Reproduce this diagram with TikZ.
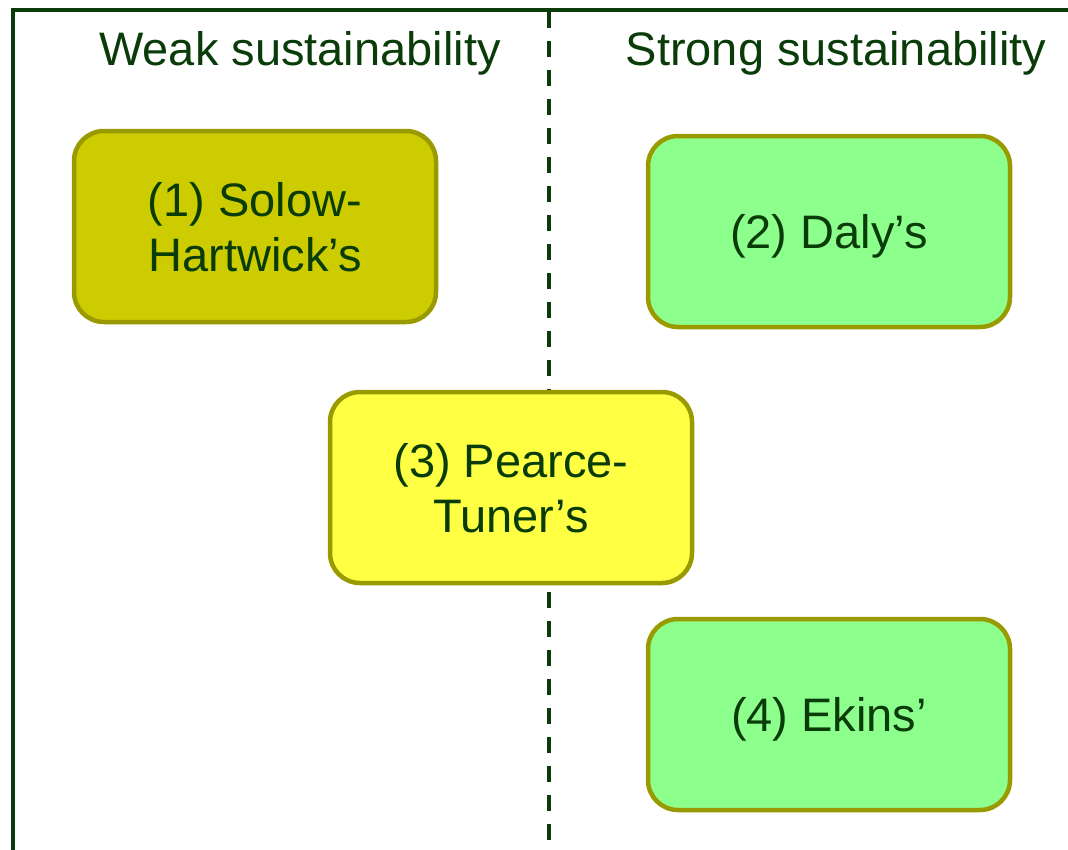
\documentclass[tikz,border=0pt]{standalone}
\usepackage{fontspec}
\setmainfont{Liberation Sans}
\definecolor{txtgreen}{HTML}{0A3C0A}
\definecolor{olive}{HTML}{999900}
\definecolor{solowfill}{HTML}{CCCC00}
\definecolor{strongfill}{HTML}{8CFF8C}
\definecolor{pearcefill}{HTML}{FFFF44}
\begin{document}
\begin{tikzpicture}[x=1pt,y=-1pt,
  header/.style={text=txtgreen,font=\fontsize{47}{55}\selectfont,inner sep=0pt,anchor=center},
  approach/.style={draw=olive,line width=4.5pt,rounded corners=30pt,
    minimum width=362pt,minimum height=191pt,inner sep=0pt,align=center,
    text depth=0pt,
    text=txtgreen,font=\fontsize{47}{55}\selectfont},
  frame/.style={draw=txtgreen,line width=4pt},
  divider/.style={draw=txtgreen,line width=4pt,dash pattern=on 16pt off 13pt}]
\useasboundingbox (0,0) rectangle (1068,849);
\coordinate (tl) at (13,10);
\coordinate (tr) at (1070,10);
\coordinate (bl) at (13,852);
\coordinate (dtop) at (549,12);
\coordinate (dbot) at (549,852);
\draw[frame] (bl) -- (tl) -- (tr);
\draw[divider] (dtop) -- (dbot);
\node[header] (weak) at (300,53) {Weak sustainability};
\node[header] (strong) at (836,53) {Strong sustainability};
\node[approach,fill=solowfill] (solow) at (255,226.5) {(1) Solow-\\Hartwick’s};
\node[approach,fill=strongfill] (daly) at (829,231.5) {(2) Daly’s};
\node[approach,fill=pearcefill] (pearce) at (511,487.5) {(3) Pearce-\\Tuner’s};
\node[approach,fill=strongfill] (ekins) at (829,714.5) {(4) Ekins’};
\end{tikzpicture}
\end{document}
